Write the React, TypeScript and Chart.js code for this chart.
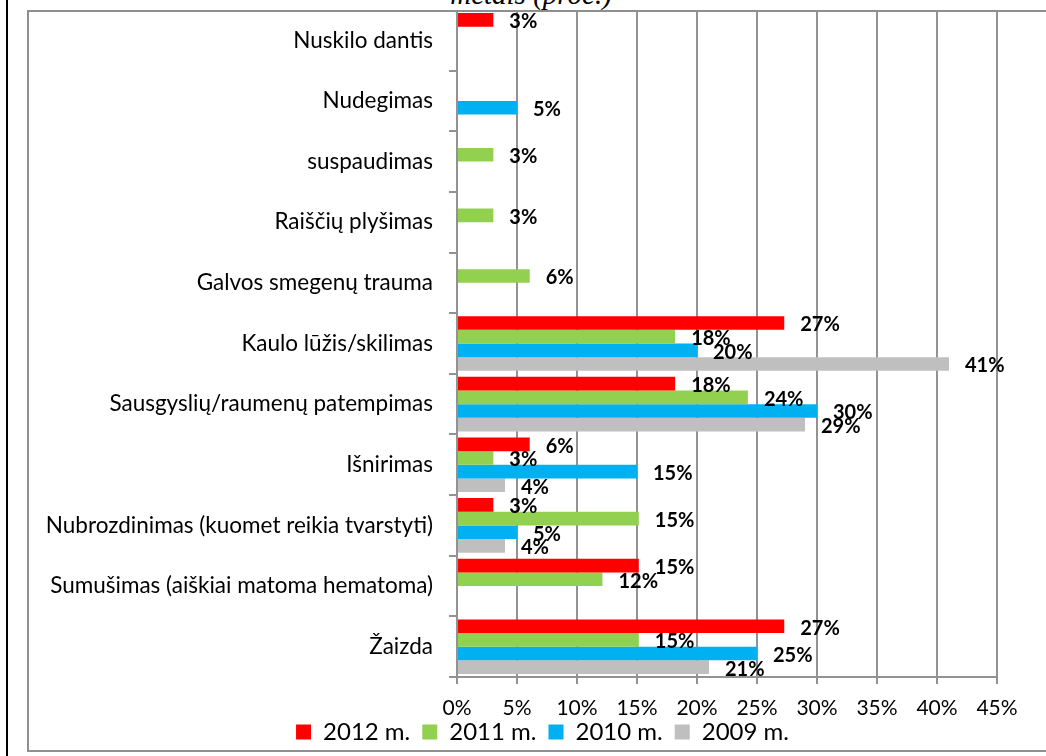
import React, { useEffect, useRef } from 'react';
import { Chart, registerables } from 'chart.js';

Chart.register(...registerables);

const categories = [
  'Nuskilo dantis',
  'Nudegimas',
  'suspaudimas',
  'Raiščių plyšimas',
  'Galvos smegenų trauma',
  'Kaulo lūžis/skilimas',
  'Sausgyslių/raumenų patempimas',
  'Išnirimas',
  'Nubrozdinimas (kuomet reikia tvarstyti)',
  'Sumušimas (aiškiai matoma hematoma)',
  'Žaizda',
];

const seriesNames = ['2012 m.', '2011 m.', '2010 m.', '2009 m.'];
const values2012 = [3.03, null, null, null, null, 27.27, 18.18, 6.06, 3.03, 15.15, 27.27];
const values2011 = [null, null, 3.03, 3.03, 6.06, 18.18, 24.24, 3.03, 15.15, 12.12, 15.15];
const values2010 = [null, 5, null, null, null, 20, 30, 15, 5, null, 25];
const values2009 = [null, null, null, null, null, 41, 29, 4, 4, null, 21];
const seriesColors = ['#FF0000', '#92D050', '#00B0F0', '#BFBFBF'];

const xMin = 0;
const xMax = 45;
const xStep = 5;

const titleText = 'metais (proc.)';

const GRID = '#929292';

const valueLabelPlugin = {
  id: 'valueLabels',
  afterDatasetsDraw(chart: any) {
    const ctx = chart.ctx;
    ctx.save();
    ctx.font = 'bold 20px Lato';
    ctx.fillStyle = '#000';
    ctx.textAlign = 'left';
    ctx.textBaseline = 'middle';
    chart.data.datasets.forEach((ds: any, di: number) => {
      const meta = chart.getDatasetMeta(di);
      meta.data.forEach((el: any, i: number) => {
        const v = ds.data[i];
        if (v === null || v === undefined) return;
        ctx.fillText(Math.round(v) + '%', el.x + 16, el.y + 2);
      });
    });
    ctx.restore();
  },
};

// moves the built-in legend to where the reference has it
const legendShiftPlugin = {
  id: 'legendShift',
  afterLayout(chart: any) {
    const lg = chart.legend;
    if (!lg) return;
    lg.left += 30;
    lg.right += 30;
    lg.top -= 13;
    lg.bottom -= 13;
  },
};

export default function App() {
  const canvasRef = useRef<HTMLCanvasElement | null>(null);

  useEffect(() => {
    document.body.style.margin = '0';
    const canvas = canvasRef.current;
    if (!canvas) return;
    const allValues = [values2012, values2011, values2010, values2009];
    const chart = new Chart(canvas, {
      type: 'bar',
      data: {
        labels: categories,
        datasets: allValues.map((vals, i) => ({
          label: seriesNames[i],
          data: vals,
          backgroundColor: seriesColors[i],
          borderWidth: 0,
          categoryPercentage: 0.9,
          barPercentage: 1.0,
        })),
      },
      options: {
        indexAxis: 'y',
        responsive: false,
        animation: false,
        layout: { padding: { left: 0, right: 31, top: 0, bottom: 0 } },
        plugins: {
          title: { display: false },
          tooltip: { enabled: false },
          legend: {
            position: 'bottom',
            labels: {
              boxWidth: 15,
              boxHeight: 15,
              padding: 12,
              color: '#000',
              font: { family: 'Lato', size: 24 },
            },
          },
        },
        scales: {
          x: {
            min: xMin,
            max: xMax,
            ticks: {
              stepSize: xStep,
              padding: 12,
              color: '#000',
              font: { family: 'Lato', size: 21 },
              callback: (v: any) => v + '%',
            },
            grid: {
              color: GRID,
              lineWidth: 2,
              tickLength: 7,
              drawTicks: true,
              drawOnChartArea: true,
            },
            border: { display: true, color: GRID, width: 2 },
            afterFit: (scale: any) => {
              scale.height = 44;
              scale.paddingLeft = 0;
              scale.paddingRight = 0;
            },
          },
          y: {
            ticks: {
              padding: 16,
              color: '#000',
              font: { family: 'Lato', size: 22.5 },
            },
            grid: {
              offset: true,
              color: GRID,
              lineWidth: 2,
              tickLength: 8,
              drawOnChartArea: false,
              drawTicks: true,
            },
            border: { display: true, color: GRID, width: 2 },
            afterFit: (scale: any) => {
              scale.width = 429;
              scale.paddingTop = 0;
              scale.paddingBottom = 0;
            },
          },
        },
      },
      plugins: [valueLabelPlugin, legendShiftPlugin],
    });
    return () => chart.destroy();
  }, []);

  return (
    <div style={{ position: 'relative', width: 1046, height: 756, overflow: 'hidden', background: '#fff' }}>
      <div style={{ position: 'absolute', left: 6, top: 0, width: 2, height: 756, background: '#000' }} />
      <div
        style={{
          position: 'absolute',
          left: 27,
          top: 10,
          width: 1020,
          height: 742,
          boxSizing: 'border-box',
          borderTop: '2px solid #8f8f8f',
          borderLeft: '2px solid #8f8f8f',
          borderBottom: '2px solid #8f8f8f',
        }}
      />
      <div
        style={{
          position: 'absolute',
          left: 331,
          top: -20,
          width: 400,
          textAlign: 'center',
          fontFamily: "'Liberation Serif', serif",
          fontStyle: 'italic',
          fontSize: 29,
          lineHeight: '29px',
          color: '#000',
          whiteSpace: 'nowrap',
        }}
      >
        {titleText}
      </div>
      <canvas
        ref={canvasRef}
        width={1000}
        height={757}
        style={{ position: 'absolute', left: 28, top: 10, width: 1000, height: 757 }}
      />
    </div>
  );
}
